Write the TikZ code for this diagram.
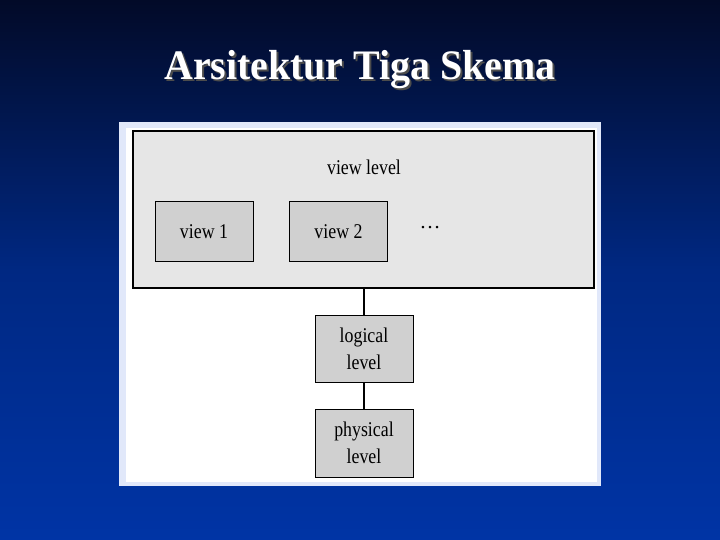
\documentclass[tikz,border=0pt]{standalone}
\usepackage{fontspec}
\setmainfont{Liberation Serif}
\definecolor{bgtop}{RGB}{2,10,40}
\definecolor{bgmid}{RGB}{0,40,130}
\definecolor{bgbot}{RGB}{0,52,165}
\definecolor{boxgray}{RGB}{208,208,208}
\definecolor{panelgray}{RGB}{230,230,230}
\definecolor{panelrim}{RGB}{225,232,250}
\begin{document}
\begin{tikzpicture}[x=1pt,y=-1pt,
  box/.style={draw=black,line width=1pt,fill=boxgray,inner sep=0pt,align=center,font=\fontsize{21}{27}\selectfont},
  conn/.style={line width=1.2pt}]
\shade[top color=bgtop,bottom color=bgbot,middle color=bgmid] (0,0) rectangle (720,540);
\useasboundingbox (0,0) rectangle (720,540);
\node[font=\bfseries\fontsize{42}{44}\selectfont,text=black!70] (sh) at (362,72) {\scalebox{0.95}[1]{Arsitektur Tiga Skema}};
\node[font=\bfseries\fontsize{42}{44}\selectfont,text=white] (title) at (360,70) {\scalebox{0.95}[1]{Arsitektur Tiga Skema}};
\fill[panelrim] (119,122) rectangle (601,486);
\fill[white] (126,128) rectangle (597,482);
\draw[line width=1.2pt,fill=panelgray] (133,131) rectangle (594,288);
\coordinate (vb) at (364,288);
\node[font=\fontsize{21}{22}\selectfont] (vl) at (364,167) {\scalebox{0.85}[1]{view level}};
\node[box,minimum width=98pt,minimum height=59pt] (v1) at (204,231.5) {\scalebox{0.85}[1]{view 1}};
\node[box,minimum width=98pt,minimum height=59pt] (v2) at (338.5,231.5) {\scalebox{0.85}[1]{view 2}};
\node[font=\fontsize{21}{22}\selectfont] (dots) at (430,228) {\dots};
\node[box,minimum width=98pt,minimum height=67pt] (log) at (364,348.5) {\scalebox{0.85}[1]{logical}\\\scalebox{0.85}[1]{level}};
\node[box,minimum width=98pt,minimum height=68pt] (phy) at (364,443) {\scalebox{0.85}[1]{physical}\\\scalebox{0.85}[1]{level}};
\draw[conn] (vb) -- (log.north);
\draw[conn] (log.south) -- (phy.north);
\end{tikzpicture}
\end{document}
